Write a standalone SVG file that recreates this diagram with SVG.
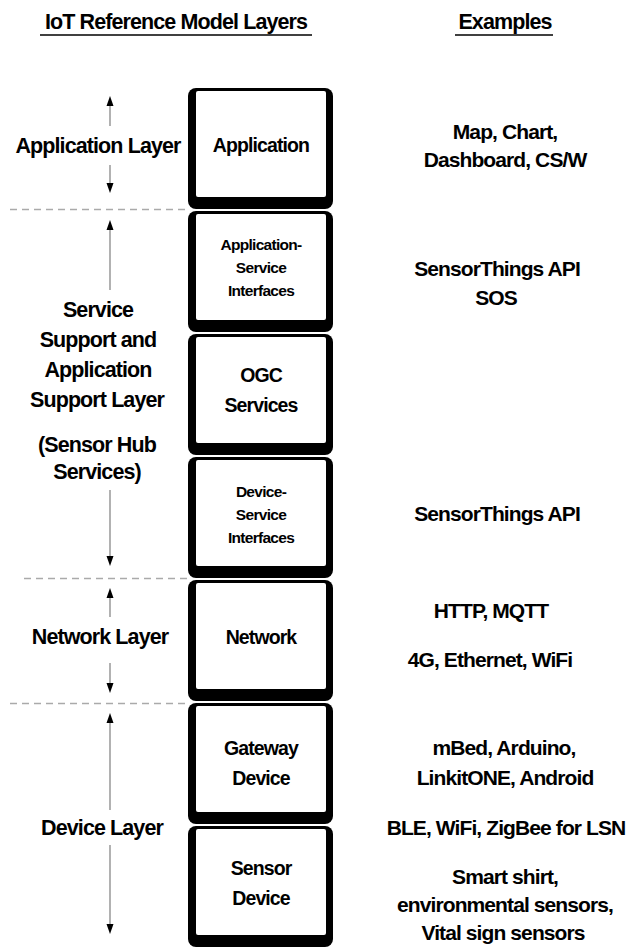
<svg xmlns="http://www.w3.org/2000/svg" width="631" height="949" viewBox="0 0 631 949">
<defs>
<style>
text{font-family:"Liberation Sans",Arial,sans-serif;font-weight:bold;fill:#000;text-anchor:middle;letter-spacing:-0.9px}
.h{font-size:21.5px}
.l{font-size:21.5px}
.b{font-size:19.5px}
.s{font-size:15.5px;letter-spacing:-0.7px}
.r{font-size:21px}
.frame{fill:#000}
.face{fill:#fff}
.dash{stroke:#aaa;stroke-width:1.5;stroke-dasharray:7,5;fill:none}
.ax{stroke:#888;stroke-width:1.3;fill:none}
.ah{fill:#000}
</style>
</defs>
<rect width="631" height="949" fill="#fff"/>
<g id="headers">
<text class="h" x="176" y="29">IoT Reference Model Layers</text>
<line x1="40" y1="35" x2="312" y2="35" stroke="#000" stroke-width="1.3"/>
<text class="h" x="505" y="29">Examples</text>
<line x1="455" y1="35" x2="553" y2="35" stroke="#000" stroke-width="1.3"/>
</g>
<g id="connectors">
<line class="dash" x1="10" y1="209.5" x2="190" y2="209.5"/>
<line class="dash" x1="24" y1="578.5" x2="190" y2="578.5"/>
<line class="dash" x1="10" y1="703.5" x2="190" y2="703.5"/>
<g id="arrows-app">
<line class="ax" x1="110" y1="103" x2="110" y2="126"/>
<polygon class="ah" points="110,96 106.5,106 113.5,106"/>
<line class="ax" x1="110" y1="165" x2="110" y2="187"/>
<polygon class="ah" points="110,193 106.5,183 113.5,183"/>
</g>
<g id="arrows-service">
<line class="ax" x1="110" y1="227" x2="110" y2="290"/>
<polygon class="ah" points="110,220 106.5,230 113.5,230"/>
<line class="ax" x1="110" y1="490" x2="110" y2="560"/>
<polygon class="ah" points="110,566 106.5,556 113.5,556"/>
</g>
<g id="arrows-network">
<line class="ax" x1="110" y1="595" x2="110" y2="617"/>
<polygon class="ah" points="110,588 106.5,598 113.5,598"/>
<line class="ax" x1="110" y1="663" x2="110" y2="687"/>
<polygon class="ah" points="110,693 106.5,683 113.5,683"/>
</g>
<g id="arrows-device">
<line class="ax" x1="110" y1="720" x2="110" y2="810"/>
<polygon class="ah" points="110,713 106.5,723 113.5,723"/>
<line class="ax" x1="110" y1="845" x2="110" y2="928"/>
<polygon class="ah" points="110,934 106.5,924 113.5,924"/>
</g>
</g>
<g id="layer-labels">
<text class="l" x="98" y="153">Application Layer</text>
<text class="l" x="98" y="317">Service</text>
<text class="l" x="98" y="347">Support and</text>
<text class="l" x="98" y="377">Application</text>
<text class="l" x="97" y="407">Support Layer</text>
<text class="l" x="97" y="452">(Sensor Hub</text>
<text class="l" x="97" y="479">Services)</text>
<text class="l" x="100" y="644">Network Layer</text>
<text class="l" x="102" y="835">Device Layer</text>
</g>
<g id="n-application">
<rect class="frame" x="188" y="88" width="145" height="121" rx="8"/>
<rect class="face" x="196" y="91" width="130" height="106" rx="2"/>
<text class="b" x="261" y="152">Application</text>
</g>
<g id="n-app-service">
<rect class="frame" x="188" y="211" width="145" height="121" rx="8"/>
<rect class="face" x="196" y="214" width="130" height="106" rx="2"/>
<text class="s" x="261" y="250">Application-</text>
<text class="s" x="261" y="273">Service</text>
<text class="s" x="261" y="296">Interfaces</text>
</g>
<g id="n-ogc">
<rect class="frame" x="188" y="334" width="145" height="121" rx="8"/>
<rect class="face" x="196" y="337" width="130" height="106" rx="2"/>
<text class="b" x="261" y="382">OGC</text>
<text class="b" x="261" y="412">Services</text>
</g>
<g id="n-dev-service">
<rect class="frame" x="188" y="457" width="145" height="121" rx="8"/>
<rect class="face" x="196" y="460" width="130" height="106" rx="2"/>
<text class="s" x="261" y="497">Device-</text>
<text class="s" x="261" y="520">Service</text>
<text class="s" x="261" y="543">Interfaces</text>
</g>
<g id="n-network">
<rect class="frame" x="188" y="580" width="145" height="121" rx="8"/>
<rect class="face" x="196" y="583" width="130" height="106" rx="2"/>
<text class="b" x="261" y="644">Network</text>
</g>
<g id="n-gateway">
<rect class="frame" x="188" y="703" width="145" height="121" rx="8"/>
<rect class="face" x="196" y="706" width="130" height="106" rx="2"/>
<text class="b" x="261" y="755">Gateway</text>
<text class="b" x="261" y="785">Device</text>
</g>
<g id="n-sensor">
<rect class="frame" x="188" y="826" width="145" height="121" rx="8"/>
<rect class="face" x="196" y="829" width="130" height="106" rx="2"/>
<text class="b" x="261" y="875">Sensor</text>
<text class="b" x="261" y="905">Device</text>
</g>
<g id="examples">
<text class="r" x="505" y="139">Map, Chart,</text>
<text class="r" x="505" y="167">Dashboard, CS/W</text>
<text class="r" x="497" y="276">SensorThings API</text>
<text class="r" x="496" y="305">SOS</text>
<text class="r" x="497" y="521">SensorThings API</text>
<text class="r" x="491" y="618">HTTP, MQTT</text>
<text class="r" x="490" y="667">4G, Ethernet, WiFi</text>
<text class="r" x="504" y="755">mBed, Arduino,</text>
<text class="r" x="505" y="785">LinkitONE, Android</text>
<text class="r" x="506" y="835">BLE, WiFi, ZigBee for LSN</text>
<text class="r" x="505" y="884">Smart shirt,</text>
<text class="r" x="505" y="912">environmental sensors,</text>
<text class="r" x="503" y="940">Vital sign sensors</text>
</g>
</svg>
